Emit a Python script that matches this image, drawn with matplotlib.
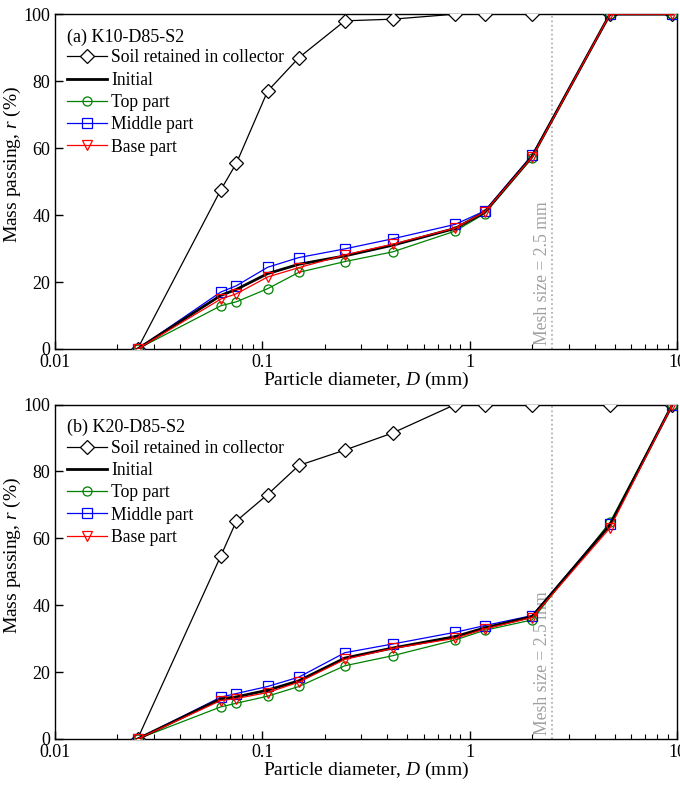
#! /usr/bin/env python3

import matplotlib
matplotlib.use("Agg")
import matplotlib.pyplot as plt
from matplotlib.ticker import LogLocator, NullFormatter, FixedLocator

plt.rcParams['font.family'] = ['Liberation Serif', 'DejaVu Serif']
plt.rcParams['mathtext.fontset'] = 'custom'
plt.rcParams['mathtext.rm'] = 'Liberation Serif'
plt.rcParams['mathtext.it'] = 'Liberation Serif:italic'

# sieve sizes (mm)
sizes = [0.025, 0.063, 0.075, 0.106, 0.15, 0.25, 0.425, 0.85, 1.18, 2.0, 4.75, 9.5]

# (a) K10-D85-S2
a_collector = [0, 47.5, 55.5, 77, 87, 98, 98.5, 100, 100, 100, 100, 100]
a_initial = [0, 16.0, 17.8, 22.5, 25.3, 27.8, 31.0, 36.0, 40.8, 57.5, 100, 100]
a_top = [0, 12.9, 14.1, 18.0, 22.9, 26.1, 29.0, 35.2, 40.4, 57.0, 100, 100]
a_middle = [0, 17.0, 18.9, 24.4, 27.3, 29.9, 32.9, 37.2, 41.2, 57.9, 100, 100]
a_base = [0, 14.9, 16.5, 21.5, 24.3, 28.1, 31.3, 36.1, 40.9, 57.3, 100, 100]

# (b) K20-D85-S2
b_collector = [0, 54.7, 65.2, 73.1, 81.8, 86.4, 91.5, 100, 100, 100, 100, 100]
b_initial = [0, 12.0, 12.6, 14.6, 17.4, 24.2, 27.2, 30.6, 33.2, 36.6, 64.0, 100]
b_top = [0, 9.6, 10.7, 12.8, 15.7, 21.9, 24.9, 29.6, 32.5, 35.6, 64.8, 100]
b_middle = [0, 12.5, 13.6, 15.7, 18.5, 25.8, 28.4, 31.9, 33.9, 36.9, 64.2, 100]
b_base = [0, 11.5, 12.1, 13.9, 17.0, 23.8, 27.1, 30.1, 32.9, 36.3, 63.1, 100]

mesh = 2.5

panels = [
    ("(a) K10-D85-S2", a_collector, a_initial, a_top, a_middle, a_base),
    ("(b) K20-D85-S2", b_collector, b_initial, b_top, b_middle, b_base),
]

fig = plt.figure(figsize=(6.8, 7.86), dpi=100)
boxes = [[0.0809, 0.556, 0.9147, 0.426], [0.0809, 0.0598, 0.9147, 0.4255]]

for box, (title, coll, init, top, mid, base) in zip(boxes, panels):
    ax = fig.add_axes(box)
    ax.set_xscale('log')

    # mesh size line
    ax.axvline(mesh, color='#a8a8a8', ls=':', lw=1.2, zorder=1)
    ax.text(mesh * 0.988, 1.2, "Mesh size = 2.5 mm", rotation=90, color='#a0a0a0',
            fontsize=12.7, ha='right', va='bottom')

    ax.plot(sizes, coll, color='black', lw=0.9, marker='D', ms=7, mfc='white',
            mec='black', mew=0.9, label='Soil retained in collector', zorder=3)
    ax.plot(sizes, init, color='black', lw=2.0, label='Initial', zorder=4)
    ax.plot(sizes, top, color='green', lw=0.9, marker='o', ms=6.5, mfc='none',
            mec='green', mew=0.9, label='Top part', zorder=3)
    ax.plot(sizes, mid, color='blue', lw=0.9, marker='s', ms=6.5, mfc='none',
            mec='blue', mew=0.9, label='Middle part', zorder=3)
    ax.plot(sizes, base, color='red', lw=0.9, marker='v', ms=6.5, mfc='none',
            mec='red', mew=0.9, label='Base part', zorder=5)

    ax.set_xlim(0.01, 10)
    ax.set_ylim(0, 100)
    ax.xaxis.set_major_locator(FixedLocator([0.01, 0.1, 1, 10]))
    ax.set_xticklabels(['0.01', '0.1', '1', '10'])
    ax.xaxis.set_minor_locator(LogLocator(base=10, subs=range(2, 10)))
    ax.xaxis.set_minor_formatter(NullFormatter())
    ax.set_yticks([0, 20, 40, 60, 80, 100])
    ax.tick_params(which='major', direction='in', length=6, width=1,
                   labelsize=13, top=False, right=False)
    ax.tick_params(which='minor', direction='in', length=3.5, width=0.8,
                   top=False, right=False)
    for sp in ax.spines.values():
        sp.set_linewidth(1.0)

    ax.set_xlabel("Particle diameter, $D$ (mm)", fontsize=14, labelpad=-1)
    ax.set_ylabel("Mass passing, $r$ (%)", fontsize=14)
    ax.yaxis.set_label_coords(-0.052, 0.55)

    ax.text(0.019, 0.932, title, transform=ax.transAxes, fontsize=13,
            ha='left', va='center')
    ax.legend(loc='upper left', bbox_to_anchor=(0.005, 0.921), frameon=False,
              fontsize=12.7, handlelength=2.25, handletextpad=0.25,
              labelspacing=0.3, borderaxespad=0.3, borderpad=0.2)

fig.savefig("out.png", dpi=100)
